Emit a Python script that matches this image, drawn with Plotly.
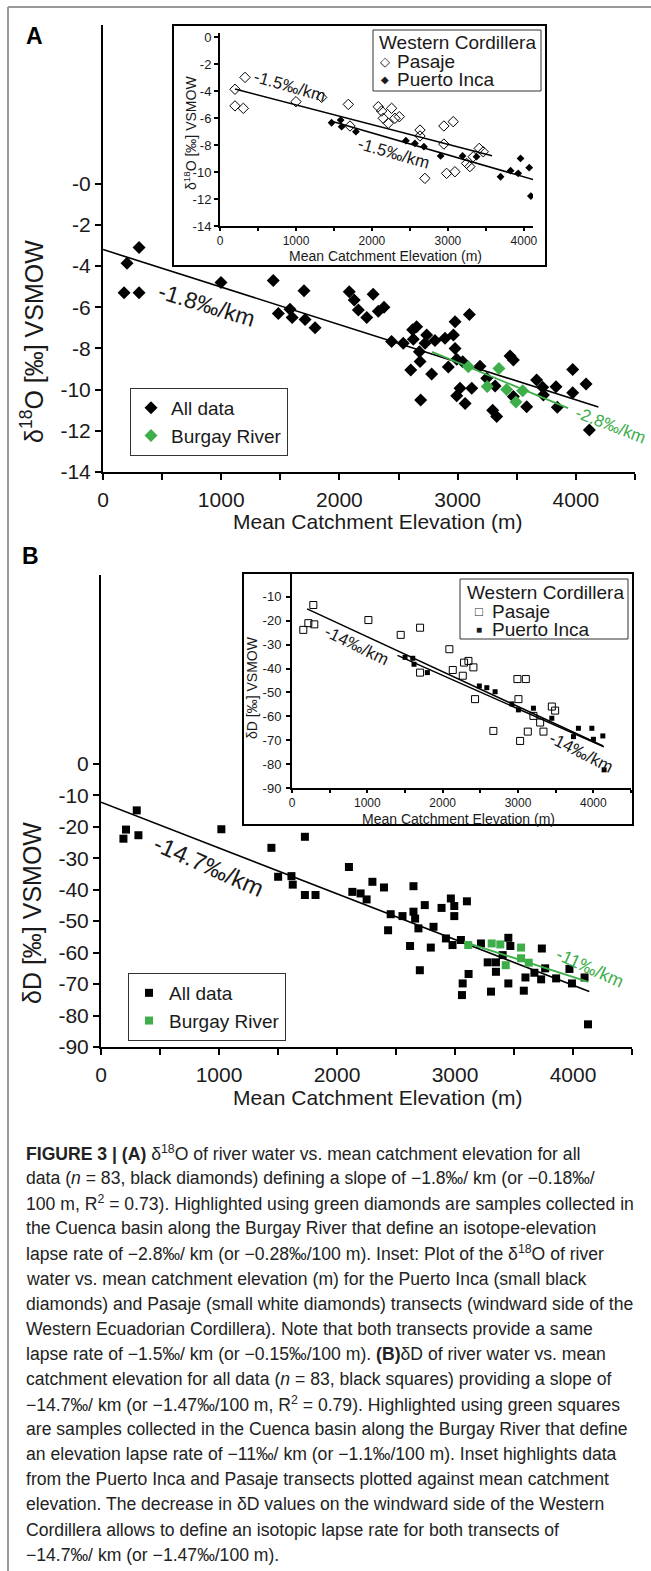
import plotly.graph_objects as go

W, H = 651, 1571
FONT = "Liberation Sans, Arial, sans-serif"
NARROW = "Liberation Sans Narrow, Arial Narrow, Liberation Sans, sans-serif"
GREEN = "#3dae49"
INK = "#1a1a1a"

# ---------------- Panel A (delta 18O) main ----------------
a_all_x = [178, 203, 305, 305, 998, 1440, 1483, 1582, 1600, 1700, 1709, 1794,
           2083, 2125, 2160, 2231, 2285, 2329, 2377,
           2441, 2540, 2603, 2619, 2625, 2653, 2676, 2682, 2687, 2724, 2738, 2780, 2808,
           2893, 2921, 2964, 2978, 2978, 2992, 2992, 3020, 3043, 3063, 3099, 3119, 3189,
           3246, 3296, 3317, 3330, 3443, 3471, 3471, 3584, 3668, 3719, 3725, 3832, 3843,
           3973, 3973, 4086, 4114]
a_all_y = [-5.3, -3.86, -3.1, -5.3, -4.8, -4.7, -6.3, -6.1, -6.5, -5.2, -6.6, -7.0,
           -5.25, -5.65, -6.14, -6.5, -5.37, -6.2, -6.0,
           -7.67, -7.75, -9.05, -7.1, -7.55, -6.95, -8.16, -8.64, -10.5, -7.75, -7.35, -9.24, -7.62,
           -7.51, -8.9, -7.35, -6.7, -8.0, -8.53, -10.3, -9.94, -8.65, -10.67, -6.35, -9.94, -8.87,
           -9.45, -11.0, -9.82, -11.3, -8.37, -8.56, -10.34, -10.83, -9.53, -9.89, -10.26, -9.86, -10.86,
           -9.02, -10.15, -9.73, -11.96]
a_burgay_x = [3090, 3250, 3349, 3414, 3493, 3550]
a_burgay_y = [-8.89, -9.85, -8.97, -10.0, -10.6, -10.05]
a_fit_x = [0, 4190]
a_fit_y = [-3.2, -10.84]
a_burgay_fit_x = [2783, 3934]
a_burgay_fit_y = [-8.17, -10.9]

# ---------------- Panel A inset ----------------
ai_pasaje_x = [197, 329, 197, 307, 1000, 1338, 1689, 1711, 2083, 2127, 2259, 2149, 2215, 2303,
               2360, 2632, 2632, 2947, 3070, 2947, 2697, 2983, 3092, 3246, 3289, 3333, 3412, 3465]
ai_pasaje_y = [-3.87, -2.99, -5.1, -5.28, -4.79, -4.47, -4.99, -6.59, -5.16, -5.48, -5.28, -6.02,
               -6.39, -6.02, -5.9, -6.89, -7.33, -6.59, -6.27, -7.93, -10.47, -10.1, -9.98, -9.36,
               -9.6, -8.87, -8.25, -8.5]
ai_inca_x = [1469, 1588, 1601, 1789, 2447, 2566, 2684, 2904, 3193, 3377, 3693, 3825, 3925, 3956, 4070, 4092]
ai_inca_y = [-6.35, -6.15, -6.64, -7.01, -7.68, -7.88, -8.12, -8.81, -8.81, -8.86, -10.35, -9.9,
             -10.1, -8.99, -9.68, -11.78]
ai_pasaje_fit_x = [197, 3580]
ai_pasaje_fit_y = [-3.85, -8.8]
ai_inca_fit_x = [1447, 4145]
ai_inca_fit_y = [-6.2, -10.6]

# ---------------- Panel B (delta D) main ----------------
b_all_x = [190, 212, 303, 317, 1020, 1444, 1501, 1614, 1625, 1728, 1728, 1818,
           2101, 2130, 2200, 2251, 2300, 2398, 2455, 2433, 2555, 2648, 2648, 2662, 2690, 2619, 2702,
           2744, 2818, 2795, 2886, 2965, 2994, 2994, 3101, 2923, 2979, 3050, 3115, 3065, 3059,
           3220, 3277, 3347, 3347, 3305, 3452, 3469, 3404, 3452, 3597, 3583, 3673, 3736, 3730,
           3764, 3857, 3970, 3991, 4098, 4127]
b_all_y = [-23.8, -20.9, -14.8, -22.7, -20.8, -26.7, -35.9, -35.7, -38.4, -23.2, -41.7, -41.7,
           -32.8, -40.7, -41.2, -43.1, -37.5, -39.3, -47.8, -52.9, -48.4, -38.9, -47.0, -49.2, -52.3,
           -57.9, -65.6, -44.9, -51.8, -58.4, -45.8, -42.8, -45.2, -48.4, -43.7, -55.5, -57.6, -56.0,
           -66.8, -69.8, -73.5, -57.1, -63.1, -63.1, -66.1, -72.4, -55.3, -57.9, -60.8, -69.8, -67.9,
           -72.1, -66.4, -58.7, -68.5, -65.0, -68.2, -65.2, -69.8, -67.9, -82.8]
b_burgay_x = [3112, 3311, 3384, 3560, 3560, 3625, 3430]
b_burgay_y = [-57.6, -57.1, -57.4, -58.4, -61.8, -63.2, -64.0]
b_fit_x = [0, 4138]
b_fit_y = [-12.2, -72.4]
b_burgay_fit_x = [3076, 4129]
b_burgay_fit_y = [-56.6, -69.3]

# ---------------- Panel B inset ----------------
bi_pasaje_x = [150, 217, 283, 296, 1014, 1443, 1700, 1700, 2089, 2134, 2267, 2284, 2342, 2408,
               2430, 2673, 2992, 3104, 3006, 3028, 3130, 3205, 3294, 3338, 3449, 3493]
bi_pasaje_y = [-23.8, -21.0, -13.4, -21.5, -19.7, -25.9, -22.9, -41.7, -31.9, -40.6, -43.0, -37.5,
               -36.8, -39.5, -52.8, -66.1, -44.4, -44.4, -52.8, -70.3, -66.4, -59.8, -62.6, -66.4,
               -55.9, -57.6]
bi_inca_x = [1501, 1603, 1620, 1797, 2487, 2586, 2696, 2918, 3006, 3205, 3449, 3736, 3802, 3980,
             4001, 4126, 4143]
bi_inca_y = [-35.3, -35.7, -38.2, -41.7, -47.3, -48.0, -49.7, -54.8, -57.3, -56.6, -60.8, -68.5,
             -65.0, -65.0, -69.6, -68.2, -82.4]
bi_pasaje_fit_x = [200, 4130]
bi_pasaje_fit_y = [-15.0, -72.4]
bi_inca_fit_x = [1400, 4140]
bi_inca_fit_y = [-34.5, -72.8]

# ---------------- tick labels ----------------
elev_ticks = [0, 1000, 2000, 3000, 4000]
elev_text = ["0", "1000", "2000", "3000", "4000"]
a_y_ticks = list(range(-14, 1, 2))
a_y_text = [str(v) if v != 0 else "-0" for v in a_y_ticks]
ai_y_ticks = list(range(-14, 1, 2))
ai_y_text = [str(v) for v in ai_y_ticks]
b_y_ticks = list(range(-90, 1, 10))
b_y_text = [str(v) for v in b_y_ticks]
bi_y_ticks = list(range(-90, -9, 10))
bi_y_text = [str(v) for v in bi_y_ticks]

inset_legend_title = "Western Cordillera"
series_names = ["Pasaje", "Puerto Inca"]

caption = [
    "<b>FIGURE 3 | (A)</b> δ<sup>18</sup>O of river water vs. mean catchment elevation for all",
    "data (<i>n</i> = 83, black diamonds) defining a slope of −1.8‰/ km (or −0.18‰/",
    "100 m, R<sup>2</sup> = 0.73). Highlighted using green diamonds are samples collected in",
    "the Cuenca basin along the Burgay River that define an isotope-elevation",
    "lapse rate of −2.8‰/ km (or −0.28‰/100 m). Inset: Plot of the δ<sup>18</sup>O of river",
    "water vs. mean catchment elevation (m) for the Puerto Inca (small black",
    "diamonds) and Pasaje (small white diamonds) transects (windward side of the",
    "Western Ecuadorian Cordillera). Note that both transects provide a same",
    "lapse rate of −1.5‰/ km (or −0.15‰/100 m). <b>(B)</b>δD of river water vs. mean",
    "catchment elevation for all data (<i>n</i> = 83, black squares) providing a slope of",
    "−14.7‰/ km (or −1.47‰/100 m, R<sup>2</sup> = 0.79). Highlighted using green squares",
    "are samples collected in the Cuenca basin along the Burgay River that define",
    "an elevation lapse rate of −11‰/ km (or −1.1‰/100 m). Inset highlights data",
    "from the Puerto Inca and Pasaje transects plotted against mean catchment",
    "elevation. The decrease in δD values on the windward side of the Western",
    "Cordillera allows to define an isotopic lapse rate for both transects of",
    "−14.7‰/ km (or −1.47‰/100 m).",
]


def PX(x):
    return x / W


def PY(y):
    return 1 - y / H


fig = go.Figure()


def line(x, y, xa, ya, color="black", width=1.6):
    fig.add_trace(go.Scatter(x=x, y=y, mode="lines", line=dict(color=color, width=width),
                             xaxis=xa, yaxis=ya, showlegend=False, hoverinfo="skip"))


def pts(x, y, xa, ya, name, legend, symbol, size, color, lw=0, show=True):
    fig.add_trace(go.Scatter(x=x, y=y, mode="markers", name=name, legend=legend,
                             showlegend=show,
                             marker=dict(symbol=symbol, size=size, color=color,
                                         line=dict(width=lw, color=color)),
                             xaxis=xa, yaxis=ya))


# Panel A main
line(a_fit_x, a_fit_y, "x", "y")
pts(a_all_x, a_all_y, "x", "y", "All data", "legend", "diamond", 10, "black")
pts(a_burgay_x, a_burgay_y, "x", "y", "Burgay River", "legend", "diamond", 10, GREEN)
line(a_burgay_fit_x, a_burgay_fit_y, "x", "y", GREEN, 1.8)

# Panel A inset
line(ai_pasaje_fit_x, ai_pasaje_fit_y, "x2", "y2", width=1.5)
line(ai_inca_fit_x, ai_inca_fit_y, "x2", "y2", width=1.5)
pts(ai_pasaje_x, ai_pasaje_y, "x2", "y2", series_names[0], "legend", "diamond-open", 8, "black", 1, False)
pts(ai_inca_x, ai_inca_y, "x2", "y2", series_names[1], "legend", "diamond", 6, "black", 0, False)

# Panel B main
line(b_fit_x, b_fit_y, "x3", "y3")
pts(b_all_x, b_all_y, "x3", "y3", "All data", "legend2", "square", 8, "black")
pts(b_burgay_x, b_burgay_y, "x3", "y3", "Burgay River", "legend2", "square", 8, GREEN)
line(b_burgay_fit_x, b_burgay_fit_y, "x3", "y3", GREEN, 1.8)

# Panel B inset
line(bi_pasaje_fit_x, bi_pasaje_fit_y, "x4", "y4", width=1.5)
line(bi_inca_fit_x, bi_inca_fit_y, "x4", "y4", width=1.5)
pts(bi_pasaje_x, bi_pasaje_y, "x4", "y4", series_names[0], "legend2", "square-open", 7, "black", 1, False)
pts(bi_inca_x, bi_inca_y, "x4", "y4", series_names[1], "legend2", "square", 5, "black", 0, False)


def axis(domain, rng, vals, text, fs, ticklen, anchor, standoff=0, minor=None):
    d = dict(domain=domain, range=rng, anchor=anchor, tickvals=vals, ticktext=text,
             tickfont=dict(family=FONT, size=fs, color=INK), showline=True, linecolor="black",
             linewidth=2, ticks="outside", ticklen=ticklen, tickwidth=2, tickcolor="black",
             showgrid=False, zeroline=False, automargin=False, fixedrange=True,
             ticklabelstandoff=standoff)
    if minor:
        d["minor"] = dict(dtick=minor, tick0=0, ticks="outside", ticklen=ticklen, tickwidth=2,
                          tickcolor="black", showgrid=False)
    return d


def legend(x, y, fs=19):
    return dict(x=PX(x), y=PY(y), xanchor="left", yanchor="top", bgcolor="white",
                bordercolor="#333", borderwidth=1, font=dict(family=FONT, size=fs, color=INK),
                tracegroupgap=0, itemwidth=30)


ann = []


def text(x, y, s, size, color=INK, angle=0, family=FONT, xanchor="center"):
    ann.append(dict(x=PX(x), y=PY(y), xref="paper", yref="paper", text=s, showarrow=False,
                    textangle=angle, xanchor=xanchor, yanchor="middle",
                    font=dict(family=family, size=size, color=color)))


# axis titles
text(377, 521, "Mean Catchment Elevation (m)", 21)
text(32, 342, "δ<sup>18</sup>O [‰] VSMOW", 25, angle=-90)
text(385, 256, "Mean Catchment Elevation (m)", 14)
text(190, 133, "δ<sup>18</sup>O [‰] VSMOW", 14, angle=-90)
text(377, 1097, "Mean Catchment Elevation (m)", 21)
text(32, 913, "δD [‰] VSMOW", 25, angle=-90)
text(458, 819, "Mean Catchment Elevation (m)", 14)
text(252, 688, "δD [‰] VSMOW", 14, angle=-90)

# panel letters
text(34, 36, "<b>A</b>", 23, color="black")
text(30, 556, "<b>B</b>", 23, color="black")

# slope labels
text(207, 305, "-1.8‰/km", 23, angle=17)
text(611, 425, "-2.8‰/km", 17, color=GREEN, angle=21)
text(290, 86, "-1.5‰/km", 17, angle=16)
text(394, 153, "-1.5‰/km", 17, angle=16)
text(208, 866, "-14.7‰/km", 24, angle=24)
text(590, 968, "-11‰/km", 18, color=GREEN, angle=24)
text(356, 646, "-14‰/km", 17, angle=26)
text(581, 752, "-14‰/km", 17, angle=27)

# inset legends (Western Cordillera)
text(377, 42, inset_legend_title, 19, xanchor="left")
text(385, 61, "◇", 13)
text(395, 61, series_names[0], 19, xanchor="left")
text(385, 80, "◆", 10)
text(395, 80, series_names[1], 19, xanchor="left")
text(465, 592, inset_legend_title, 19, xanchor="left")
text(479, 611, "□", 13)
text(490, 611, series_names[0], 19, xanchor="left")
text(479, 630, "■", 10)
text(490, 630, series_names[1], 19, xanchor="left")

# caption
for i, s in enumerate(caption):
    text(24, 1153 + i * 25.1, s, 17.6, color="#222", family=NARROW, xanchor="left")

shapes = [
    dict(type="line", xref="paper", yref="paper", x0=PX(8), x1=1, y0=PY(7), y1=PY(7),
         line=dict(color="#999", width=2)),
    dict(type="line", xref="paper", yref="paper", x0=PX(8), x1=PX(8), y0=PY(7), y1=0,
         line=dict(color="#999", width=2)),
    dict(type="rect", xref="paper", yref="paper", x0=PX(173), x1=PX(546), y0=PY(266), y1=PY(25),
         line=dict(color="black", width=2), fillcolor="white", layer="below"),
    dict(type="rect", xref="paper", yref="paper", x0=PX(243), x1=PX(633), y0=PY(825), y1=PY(573),
         line=dict(color="black", width=2), fillcolor="white", layer="below"),
    dict(type="rect", xref="paper", yref="paper", x0=PX(373), x1=PX(541), y0=PY(91), y1=PY(30),
         line=dict(color="#333", width=1), fillcolor="white", layer="above"),
    dict(type="rect", xref="paper", yref="paper", x0=PX(460), x1=PX(628), y0=PY(639), y1=PY(579),
         line=dict(color="#333", width=1), fillcolor="white", layer="above"),
]

fig.update_layout(
    width=W, height=H, autosize=False,
    margin=dict(l=0, r=0, t=0, b=0),
    paper_bgcolor="white", plot_bgcolor="rgba(0,0,0,0)",
    font=dict(family=FONT, color=INK),
    xaxis=axis([PX(103), PX(635)], [0, 4500], elev_ticks, elev_text, 21, 6, "y", 2, 500),
    yaxis=axis([PY(472), PY(25)], [-14, 7.7], a_y_ticks, a_y_text, 21, 6, "x"),
    xaxis2=axis([PX(220), PX(533)], [0, 4120], elev_ticks, elev_text, 12, 3, "y2", 0, 500),
    yaxis2=axis([PY(226), PY(33)], [-14, 0.3], ai_y_ticks, ai_y_text, 13, 4, "x2"),
    xaxis3=axis([PX(101), PX(632)], [0, 4500], elev_ticks, elev_text, 21, 6, "y3", 2, 500),
    yaxis3=axis([PY(1047), PY(575)], [-90, 60], b_y_ticks, b_y_text, 21, 6, "x3"),
    xaxis4=axis([PX(292), PX(631)], [0, 4500], elev_ticks, elev_text, 12, 3, "y4", 0, 500),
    yaxis4=axis([PY(788), PY(573)], [-90, 0], bi_y_ticks, bi_y_text, 13, 4, "x4", 2),
    legend=legend(130, 388),
    legend2=legend(128, 973),
    annotations=ann,
    shapes=shapes,
    showlegend=True,
)

fig.write_html("out.html", config={"displayModeBar": False},
               post_script="document.body.style.margin='0';")
